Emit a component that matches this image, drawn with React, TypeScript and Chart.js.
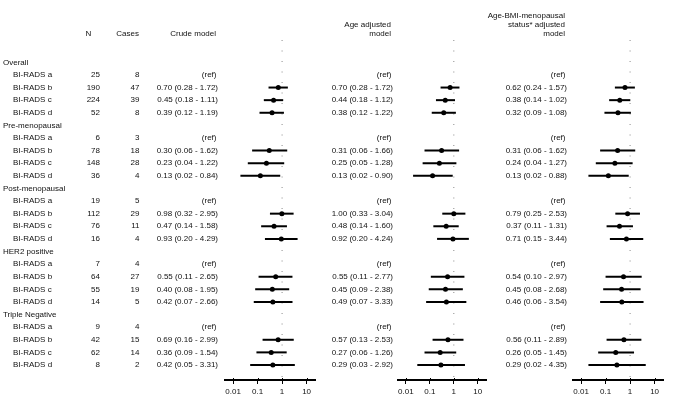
import React, { useEffect, useRef } from 'react';
import { Chart, registerables } from 'chart.js';

Chart.register(...registerables);

const FONT = '"Liberation Sans", Arial, Helvetica, sans-serif';

// ---------------- data ----------------
const groups = ['Overall', 'Pre-menopausal', 'Post-menopausal', 'HER2 positive', 'Triple Negative'];
const categories = ['BI-RADS a', 'BI-RADS b', 'BI-RADS c', 'BI-RADS d'];

const nValues = [
  [25, 190, 224, 52],
  [6, 78, 148, 36],
  [19, 112, 76, 16],
  [7, 64, 55, 14],
  [9, 42, 62, 8],
];
const caseValues = [
  [8, 47, 39, 8],
  [3, 18, 28, 4],
  [5, 29, 11, 4],
  [4, 27, 19, 5],
  [4, 15, 14, 2],
];

const crudeOR = [
  [null, 0.70, 0.45, 0.39],
  [null, 0.30, 0.23, 0.13],
  [null, 0.98, 0.47, 0.93],
  [null, 0.55, 0.40, 0.42],
  [null, 0.69, 0.36, 0.42],
];
const crudeLow = [
  [null, 0.28, 0.18, 0.12],
  [null, 0.06, 0.04, 0.02],
  [null, 0.32, 0.14, 0.20],
  [null, 0.11, 0.08, 0.07],
  [null, 0.16, 0.09, 0.05],
];
const crudeHigh = [
  [null, 1.72, 1.11, 1.19],
  [null, 1.62, 1.22, 0.84],
  [null, 2.95, 1.58, 4.29],
  [null, 2.65, 1.95, 2.66],
  [null, 2.99, 1.54, 3.31],
];

const ageOR = [
  [null, 0.70, 0.44, 0.38],
  [null, 0.31, 0.25, 0.13],
  [null, 1.00, 0.48, 0.92],
  [null, 0.55, 0.45, 0.49],
  [null, 0.57, 0.27, 0.29],
];
const ageLow = [
  [null, 0.28, 0.18, 0.12],
  [null, 0.06, 0.05, 0.02],
  [null, 0.33, 0.14, 0.20],
  [null, 0.11, 0.09, 0.07],
  [null, 0.13, 0.06, 0.03],
];
const ageHigh = [
  [null, 1.72, 1.12, 1.22],
  [null, 1.66, 1.28, 0.90],
  [null, 3.04, 1.60, 4.24],
  [null, 2.77, 2.38, 3.33],
  [null, 2.53, 1.26, 2.92],
];

const adjOR = [
  [null, 0.62, 0.38, 0.32],
  [null, 0.31, 0.24, 0.13],
  [null, 0.79, 0.37, 0.71],
  [null, 0.54, 0.45, 0.46],
  [null, 0.56, 0.26, 0.29],
];
const adjLow = [
  [null, 0.24, 0.14, 0.09],
  [null, 0.06, 0.04, 0.02],
  [null, 0.25, 0.11, 0.15],
  [null, 0.10, 0.08, 0.06],
  [null, 0.11, 0.05, 0.02],
];
const adjHigh = [
  [null, 1.57, 1.02, 1.08],
  [null, 1.62, 1.27, 0.88],
  [null, 2.53, 1.31, 3.44],
  [null, 2.97, 2.68, 3.54],
  [null, 2.89, 1.45, 4.35],
];

const tickValues = [0.01, 0.1, 1, 10];
const tickLabels = ['0.01', '0.1', '1', '10'];

// ---------------- layout ----------------
const W = 677;
const H = 405;
const X_MIN = 0.0047;
const X_MAX = 22;
const Y_MIN = -1.77;
const Y_MAX = 25.19;

type Model = { or: (number | null)[][]; lo: (number | null)[][]; hi: (number | null)[][] };

const models: Model[] = [
  { or: crudeOR, lo: crudeLow, hi: crudeHigh },
  { or: ageOR, lo: ageLow, hi: ageHigh },
  { or: adjOR, lo: adjLow, hi: adjHigh },
];

const panels = [
  { left: 0, width: 322, areaLeft: 225, areaRight: 315, valueRight: 218, headerRight: 216, header: ['Crude model'], table: true },
  { left: 322, width: 168, areaLeft: 398, areaRight: 488, valueRight: 393, headerRight: 391, header: ['Age adjusted', 'model'], table: false },
  { left: 482, width: 195, areaLeft: 573, areaRight: 663, valueRight: 567, headerRight: 565, header: ['Age-BMI-menopausal', 'status* adjusted', 'model'], table: false },
];

const rowOf = (g: number, k: number) => g * 5 + 1 + k;
const fmt = (v: number) => v.toFixed(2);

function buildConfig(pi: number): any {
  const p = panels[pi];
  const m = models[pi];
  const datasets: any[] = [];

  // reference dotted line at OR = 1
  datasets.push({
    type: 'line',
    data: [{ x: 1, y: Y_MIN }, { x: 1, y: Y_MAX }],
    borderColor: '#8a8a8a',
    borderWidth: 1,
    borderDash: [1, 9.5],
    pointRadius: 0,
    order: 3,
  });

  const points: any[] = [];
  groups.forEach((_, g) => {
    categories.forEach((__, k) => {
      const or = m.or[g][k];
      const lo = m.lo[g][k];
      const hi = m.hi[g][k];
      if (or == null || lo == null || hi == null) return;
      const r = rowOf(g, k);
      datasets.push({
        type: 'line',
        data: [{ x: lo, y: r }, { x: hi, y: r }],
        borderColor: '#000',
        borderWidth: 2,
        pointRadius: 0,
        order: 2,
      });
      points.push({ x: or, y: r });
    });
  });
  datasets.push({
    type: 'scatter',
    data: points,
    backgroundColor: '#000',
    borderColor: '#000',
    borderWidth: 0,
    pointRadius: 2.5,
    pointStyle: 'circle',
    order: 1,
  });

  const textPlugin = {
    id: 'tableText' + pi,
    afterDraw(chart: any) {
      const ctx = chart.ctx;
      const ys = chart.scales.y;
      const xs = chart.scales.x;
      ctx.save();
      // tick marks crossing the axis line (upper part)
      ctx.strokeStyle = '#000';
      ctx.lineWidth = 1;
      tickValues.forEach((v) => {
        const px = Math.round(xs.getPixelForValue(v)) + 0.5;
        ctx.beginPath();
        ctx.moveTo(px, chart.chartArea.bottom - 2);
        ctx.lineTo(px, chart.chartArea.bottom + 1);
        ctx.stroke();
      });
      ctx.font = `8px ${FONT}`;
      ctx.fillStyle = '#111';
      ctx.textBaseline = 'middle';
      const put = (t: string, x: number, y: number, align: CanvasTextAlign) => {
        ctx.textAlign = align;
        ctx.fillText(t, x - p.left, y);
      };
      // header
      const n = p.header.length;
      p.header.forEach((line, i) => put(line, p.headerRight, 33.5 - (n - 1 - i) * 8.8, 'right'));
      if (p.table) {
        put('N', 88.5, 33.5, 'center');
        put('Cases', 139, 33.5, 'right');
      }
      groups.forEach((gName, g) => {
        if (p.table) put(gName, 3, ys.getPixelForValue(g * 5), 'left');
        categories.forEach((cName, k) => {
          const y = ys.getPixelForValue(rowOf(g, k));
          if (p.table) {
            put(cName, 13, y, 'left');
            put(String(nValues[g][k]), 100, y, 'right');
            put(String(caseValues[g][k]), 139.5, y, 'right');
          }
          const or = m.or[g][k];
          const lo = m.lo[g][k];
          const hi = m.hi[g][k];
          if (or == null || lo == null || hi == null) {
            put('(ref)', p.valueRight - 1.5, y, 'right');
          } else {
            put(`${fmt(or)} (${fmt(lo)} - ${fmt(hi)})`, p.valueRight, y, 'right');
          }
        });
      });
      ctx.restore();
    },
  };

  return {
    type: 'scatter',
    data: { datasets },
    plugins: [textPlugin],
    options: {
      animation: false,
      responsive: false,
      maintainAspectRatio: false,
      devicePixelRatio: 1,
      events: [],
      layout: {
        padding: {
          left: p.areaLeft - p.left,
          right: p.left + p.width - p.areaRight,
          top: 40,
          bottom: 0,
        },
      },
      plugins: { legend: { display: false }, tooltip: { enabled: false } },
      scales: {
        x: {
          type: 'logarithmic',
          min: X_MIN,
          max: X_MAX,
          afterBuildTicks: (s: any) => {
            s.ticks = tickValues.map((v) => ({ value: v }));
          },
          afterFit: (s: any) => {
            s.height = 25;
            s.paddingLeft = 0;
            s.paddingRight = 0;
          },
          grid: { drawOnChartArea: false, drawTicks: true, tickLength: 4, color: '#000', lineWidth: 1 },
          border: { display: true, color: '#000', width: 2 },
          ticks: {
            color: '#111',
            font: { family: FONT, size: 8 },
            padding: 3,
            maxRotation: 0,
            autoSkip: false,
            callback: (_v: any, i: number) => tickLabels[i],
          },
        },
        y: { type: 'linear', reverse: true, min: Y_MIN, max: Y_MAX, display: false },
      },
    },
  };
}

function Panel({ index }: { index: number }) {
  const ref = useRef<HTMLCanvasElement>(null);
  const p = panels[index];
  useEffect(() => {
    if (!ref.current) return;
    const chart = new Chart(ref.current, buildConfig(index));
    return () => chart.destroy();
  }, [index]);
  return (
    <canvas
      ref={ref}
      width={p.width}
      height={H}
      style={{ position: 'absolute', left: p.left, top: 0, width: p.width, height: H }}
    />
  );
}

export default function App() {
  return (
    <div style={{ position: 'fixed', left: 0, top: 0, width: W, height: H, background: '#fff', overflow: 'hidden' }}>
      {panels.map((_, i) => (
        <Panel key={i} index={i} />
      ))}
    </div>
  );
}
